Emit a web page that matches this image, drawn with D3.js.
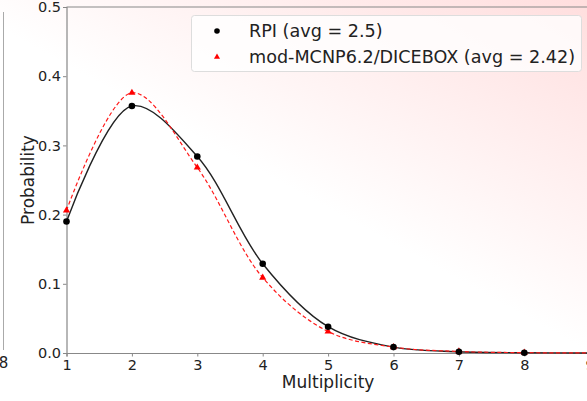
<!DOCTYPE html>
<html>
<head>
<meta charset="utf-8">
<script src="https://cdn.jsdelivr.net/npm/d3@7"></script>
<style>
  body { margin: 0; background: #fff; }
  svg { display: block; font-family: "DejaVu Sans", sans-serif; }
</style>
</head>
<body>
<div id="grafico"></div>
<script>
// multiplicity values and probabilities
const multiplicidad = [1, 2, 3, 4, 5, 6, 7, 8, 9];
const rpi = [0.190, 0.357, 0.284, 0.129, 0.038, 0.0085, 0.0018, 0.0004, 0.0001];
const mcnp = [0.206, 0.376, 0.268, 0.109, 0.031, 0.0085, 0.0022, 0.0005, 0.0001];
const ticksX = [1, 2, 3, 4, 5, 6, 7, 8, 9];
const ticksY = [0.0, 0.1, 0.2, 0.3, 0.4, 0.5];
const etiquetas = ["RPI (avg = 2.5)", "mod-MCNP6.2/DICEBOX (avg = 2.42)"];

const W = 587, H = 401;
const svg = d3.select("#grafico").append("svg")
    .attr("width", W).attr("height", H);

// soft pink wash coming from the top right corner
const defs = svg.append("defs");
const grad = defs.append("linearGradient")
    .attr("id", "fondo")
    .attr("gradientUnits", "userSpaceOnUse")
    .attr("x1", 610).attr("y1", -40)
    .attr("x2", 440).attr("y2", 270);
grad.append("stop").attr("offset", "0%").attr("stop-color", "#ffd9d9");
grad.append("stop").attr("offset", "100%").attr("stop-color", "#ffffff");
svg.append("rect").attr("width", W).attr("height", H).attr("fill", "url(#fondo)");

// leftover piece of the neighbouring panel
svg.append("line").attr("x1", 3.5).attr("x2", 3.5).attr("y1", 12).attr("y2", 350)
    .attr("stroke", "#aaa").attr("stroke-width", 1);
svg.append("text").attr("x", 3.5).attr("y", 368).attr("text-anchor", "middle")
    .attr("font-size", "15px").attr("fill", "#222").text("8");

const x = d3.scaleLinear().domain([1, 9]).range([66.5, 589.7]);
const y = d3.scaleLinear().domain([0, 0.5]).range([353, 7]);

// axes
const ejeX = svg.append("g")
    .attr("transform", `translate(0, ${y(0)})`)
    .call(d3.axisBottom(x).tickValues(ticksX).tickFormat(d3.format("d")).tickSize(3.5).tickPadding(3));
const ejeY = svg.append("g")
    .attr("transform", `translate(${x(1)}, 0)`)
    .call(d3.axisLeft(y).tickValues(ticksY).tickFormat(d3.format(".1f")).tickSize(3.5).tickPadding(2));

[ejeX, ejeY].forEach(g => {
    g.select(".domain").attr("stroke", "#888").attr("stroke-width", 1.2);
    g.selectAll(".tick line").attr("stroke", "#888");
    g.selectAll("text").attr("font-size", "14.5px").attr("fill", "#222")
        .attr("font-family", "DejaVu Sans, sans-serif");
});

// top spine
svg.append("line")
    .attr("x1", x(1)).attr("x2", x(9))
    .attr("y1", y(0.5)).attr("y2", y(0.5))
    .attr("stroke", "#888").attr("stroke-width", 1.2);

svg.append("text")
    .attr("x", (x(1) + x(9)) / 2).attr("y", 388)
    .attr("text-anchor", "middle").attr("font-size", "17px").attr("fill", "#222")
    .text("Multiplicity");
svg.append("text")
    .attr("transform", `translate(34, ${(y(0) + y(0.5)) / 2}) rotate(-90)`)
    .attr("text-anchor", "middle").attr("font-size", "17px").attr("fill", "#222")
    .text("Probability");

const datosRpi = multiplicidad.map((m, i) => ({ m, p: rpi[i] }));
const datosMcnp = multiplicidad.map((m, i) => ({ m, p: mcnp[i] }));

const linea = d3.line()
    .x(d => x(d.m))
    .y(d => y(d.p))
    .curve(d3.curveCatmullRom.alpha(0.5));

svg.append("path")
    .datum(datosRpi)
    .attr("d", linea)
    .attr("fill", "none")
    .attr("stroke", "#222")
    .attr("stroke-width", 1.4);

svg.append("path")
    .datum(datosMcnp)
    .attr("d", linea)
    .attr("fill", "none")
    .attr("stroke", "#ff1a1a")
    .attr("stroke-width", 1.2)
    .attr("stroke-dasharray", "4,2.5");

const tri = d3.symbol().type(d3.symbolTriangle).size(22);

svg.selectAll(".pt-mcnp")
    .data(datosMcnp.filter(d => d.m <= 8))
    .enter()
    .append("path")
    .attr("class", "pt-mcnp")
    .attr("transform", d => `translate(${x(d.m)}, ${y(d.p)})`)
    .attr("d", tri)
    .attr("fill", "#ff0000");

svg.selectAll(".pt-rpi")
    .data(datosRpi.filter(d => d.m <= 8))
    .enter()
    .append("circle")
    .attr("class", "pt-rpi")
    .attr("cx", d => x(d.m))
    .attr("cy", d => y(d.p))
    .attr("r", 3.3)
    .attr("fill", "#000");

// legend
const leyenda = svg.append("g");
leyenda.append("rect")
    .attr("x", 191.5).attr("y", 15.5)
    .attr("width", 390).attr("height", 56)
    .attr("rx", 3).attr("ry", 3)
    .attr("fill", "#fff").attr("fill-opacity", 0.8)
    .attr("stroke", "#ddd");
leyenda.append("circle")
    .attr("cx", 217).attr("cy", 31).attr("r", 2.8).attr("fill", "#000");
leyenda.append("path")
    .attr("transform", "translate(217, 57)")
    .attr("d", d3.symbol().type(d3.symbolTriangle).size(16))
    .attr("fill", "#ff0000");
leyenda.selectAll(".etq")
    .data(etiquetas)
    .enter()
    .append("text")
    .attr("class", "etq")
    .attr("x", 249)
    .attr("y", (d, i) => 37 + i * 26)
    .attr("font-size", "17.6px")
    .attr("fill", "#222")
    .text(d => d);
</script>
</body>
</html>
